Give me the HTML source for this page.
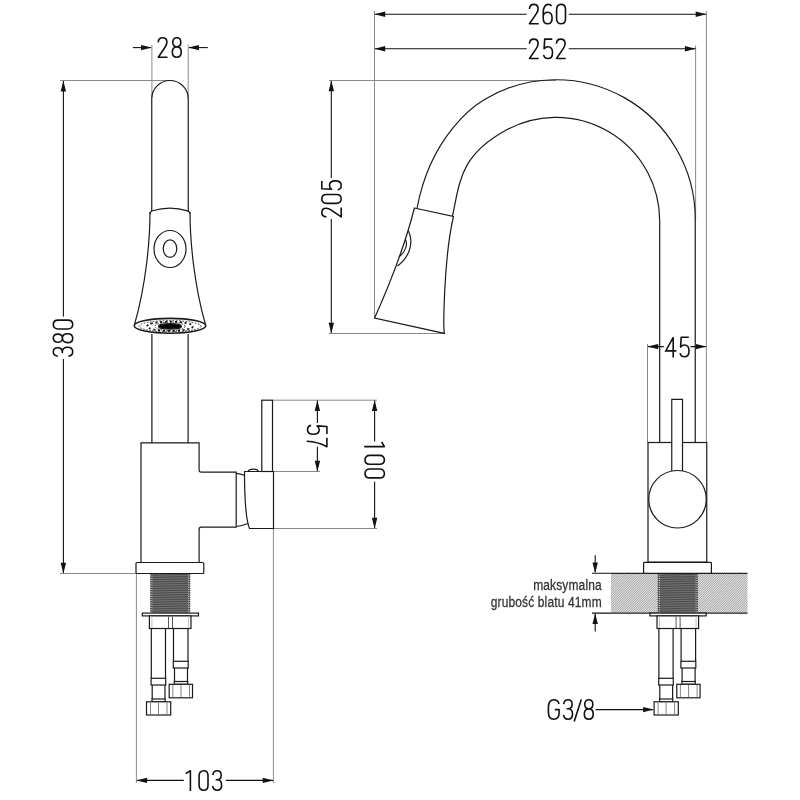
<!DOCTYPE html>
<html><head><meta charset="utf-8">
<style>
html,body{margin:0;padding:0;background:#fff;width:800px;height:800px;overflow:hidden}
svg{display:block}
</style></head>
<body>
<svg width="800" height="800" viewBox="0 0 800 800">
<defs>
<g id="d0"><path d="M0.8,5.6 C0.8,2.6 2.6,0.8 5.25,0.8 C7.9,0.8 9.7,2.6 9.7,5.6 V15.4 C9.7,18.4 7.9,20.2 5.25,20.2 C2.6,20.2 0.8,18.4 0.8,15.4 Z"/></g>
<g id="d1"><path d="M0.9,3.6 L5.6,0.8 V21"/></g>
<g id="d2"><path d="M0.9,5.4 C1.1,2.5 2.9,0.8 5.25,0.8 C7.8,0.8 9.6,2.6 9.6,5.3 C9.6,7.3 8.9,8.6 7.7,10.3 L1,20.2 H10.2"/></g>
<g id="d3"><path d="M0.9,5.2 C1.2,2.4 3,0.8 5.25,0.8 C7.7,0.8 9.3,2.5 9.3,5.2 C9.3,8 7.6,9.8 5,9.8 H3.8 M5,9.8 C7.9,9.8 9.7,11.9 9.7,15 C9.7,18.3 7.9,20.2 5.25,20.2 C2.8,20.2 1.1,18.6 0.8,15.9"/></g>
<g id="d4"><path d="M8.2,21 V0.8 L0.8,14.4 H11.4" stroke-linejoin="miter"/></g>
<g id="d5"><path d="M9.5,0.8 H1.9 L1.3,10.6 C2.3,9.2 3.6,8.5 5.2,8.5 C8,8.5 9.7,10.8 9.7,14.4 C9.7,18.1 7.9,20.2 5.2,20.2 C3,20.2 1.2,19 0.8,16.6"/></g>
<g id="d6"><path d="M9.2,2.6 C8.4,1.3 7.3,0.8 5.9,0.8 C2.9,0.8 0.8,3.6 0.8,8.8 V14.6 C0.8,18 2.6,20.2 5.25,20.2 C7.9,20.2 9.7,18 9.7,14.4 C9.7,10.8 7.9,8.6 5.25,8.6 C2.9,8.6 1.2,10.3 0.8,12.5"/></g>
<g id="d7"><path d="M0.8,0.8 H9.7 C6.8,5.8 4.6,12 4.2,21"/></g>
<g id="d8"><path d="M5.25,9.9 C2.7,9.9 1.2,8 1.2,5.3 C1.2,2.6 2.9,0.8 5.25,0.8 C7.6,0.8 9.3,2.6 9.3,5.3 C9.3,8 7.8,9.9 5.25,9.9 C2.5,9.9 0.8,12 0.8,15 C0.8,18.2 2.7,20.2 5.25,20.2 C7.8,20.2 9.7,18.2 9.7,15 C9.7,12 8,9.9 5.25,9.9 Z"/></g>
<g id="dG"><path d="M11.4,5 C10.8,2.3 9.1,0.8 6.2,0.8 C2.8,0.8 0.8,3.6 0.8,8 V13 C0.8,17.5 2.8,20.2 6.2,20.2 C9.5,20.2 11.5,18 11.5,14 V10.6 H7.2"/></g>
<g id="dS"><path d="M7.3,0.4 L0.2,22.5"/></g>
<path id="ah" d="M0,0 L-10.7,-2.7 L-10.7,2.7 Z"/>
<pattern id="hatch" width="1.3" height="1.3" patternUnits="userSpaceOnUse" patternTransform="rotate(-45)">
<rect width="1.3" height="1.3" fill="#e8e8e8"/><rect width="1.3" height="0.6" fill="#666"/>
</pattern>
<pattern id="thread" width="40" height="2.3" patternUnits="userSpaceOnUse">
<rect width="40" height="2.3" fill="#8a8a8a"/><rect width="40" height="1.1" fill="#555"/>
</pattern>
</defs>

<!-- ============ TEXT ============ -->
<g fill="none" stroke="#111" stroke-width="1.6" stroke-linecap="butt" stroke-linejoin="round">
  <!-- 28 -->
  <use href="#d2" x="157.3" y="37"/><use href="#d8" x="171.5" y="37"/>
  <!-- 260 -->
  <use href="#d2" x="528.5" y="3.6"/><use href="#d6" x="542.4" y="3.6"/><use href="#d0" x="555.8" y="3.6"/>
  <!-- 252 -->
  <use href="#d2" x="528.5" y="38.3"/><use href="#d5" x="542.8" y="38.3"/><use href="#d2" x="555.5" y="38.3"/>
  <!-- 45 -->
  <use href="#d4" x="665" y="336.5"/><use href="#d5" x="679.3" y="336.5"/>
  <!-- 103 -->
  <use href="#d1" x="184.8" y="770"/><use href="#d0" x="198.3" y="770"/><use href="#d3" x="211.9" y="770"/>
  <!-- G3/8 -->
  <use href="#dG" x="547.6" y="699"/><use href="#d3" x="562.8" y="699"/><use href="#dS" x="574" y="699"/><use href="#d8" x="583.5" y="699"/>
  <!-- 380 rotated -90 -->
  <g transform="translate(52.5,357) rotate(-90)"><use href="#d3" x="0" y="0"/><use href="#d8" x="13.6" y="0"/><use href="#d0" x="27.2" y="0"/></g>
  <!-- 205 rotated -90 -->
  <g transform="translate(321,217.8) rotate(-90)"><use href="#d2" x="0" y="0"/><use href="#d0" x="13.6" y="0"/><use href="#d5" x="27.2" y="0"/></g>
  <!-- 57 rotated 90 -->
  <g transform="translate(327.7,424.6) rotate(90)"><use href="#d5" x="0" y="0"/><use href="#d7" x="12.4" y="0"/></g>
  <!-- 100 rotated 90 -->
  <g transform="translate(385.2,441) rotate(90)"><use href="#d1" x="0" y="0"/><use href="#d0" x="13.6" y="0"/><use href="#d0" x="27.2" y="0"/></g>
</g>

<!-- ============ EXTENSION LINES ============ -->
<g stroke="#8a8a8a" stroke-width="1" fill="none">
  <path d="M60,80.5 H170 M329,80.5 H556"/>
  <path d="M60,573.5 H136"/>
  <path d="M151.9,44.7 V98"/><path d="M188.2,44.7 V98"/>
  <path d="M273,400.2 H377"/><path d="M273.5,471.5 H320"/><path d="M273.5,528.5 H377"/>
  <path d="M273.4,528.5 V783"/><path d="M136.4,574 V783"/>
  <path d="M374.5,11 V318"/><path d="M706.4,11 V442.5"/><path d="M695.6,45.5 V219"/>
  <path d="M329,333.5 H444"/>
  <path d="M647.5,344 V442.5"/>
</g>

<!-- ============ DIMENSION LINES ============ -->
<g stroke="#111" stroke-width="1.1" fill="none">
  <path d="M132.8,47.6 H151"/><path d="M189,47.6 H207.8"/>
  <path d="M63.4,81 V316.5 M63.4,359 V573"/>
  <path d="M317.4,400.5 V423 M317.4,446.8 V471"/>
  <path d="M374.6,400.5 V441.5 M374.6,481.8 V528"/>
  <path d="M137,780.4 H183.8 M225.8,780.4 H273"/>
  <path d="M375,14.25 H526.7 M568.7,14.25 H706"/>
  <path d="M375,48.75 H526.7 M568.7,48.75 H695.5"/>
  <path d="M331.3,81 V178 M331.3,219 V333"/>
  <path d="M648,346.6 H663.8 M690.6,346.6 H706"/>
  <path d="M595.6,709.6 H653"/>
  <path d="M595.2,555.2 V572 M595.2,614 V631.4"/>
  <path d="M592,573.3 H611 M592,613.1 H611"/>
</g>
<g fill="#111">
  <use href="#ah" transform="translate(151.75,47.6)"/>
  <use href="#ah" transform="translate(188.25,47.6) rotate(180)"/>
  <use href="#ah" transform="translate(63.4,80.8) rotate(-90)"/>
  <use href="#ah" transform="translate(63.4,573.5) rotate(90)"/>
  <use href="#ah" transform="translate(317.4,400.2) rotate(-90)"/>
  <use href="#ah" transform="translate(317.4,471.5) rotate(90)"/>
  <use href="#ah" transform="translate(374.6,400.2) rotate(-90)"/>
  <use href="#ah" transform="translate(374.6,528.5) rotate(90)"/>
  <use href="#ah" transform="translate(136.4,780.4) rotate(180)"/>
  <use href="#ah" transform="translate(273.4,780.4)"/>
  <use href="#ah" transform="translate(374.5,14.25) rotate(180)"/>
  <use href="#ah" transform="translate(706.4,14.25)"/>
  <use href="#ah" transform="translate(374.5,48.75) rotate(180)"/>
  <use href="#ah" transform="translate(695.6,48.75)"/>
  <use href="#ah" transform="translate(331.3,80.5) rotate(-90)"/>
  <use href="#ah" transform="translate(331.3,333.5) rotate(90)"/>
  <use href="#ah" transform="translate(647.5,346.6) rotate(180)"/>
  <use href="#ah" transform="translate(706.5,346.6)"/>
  <use href="#ah" transform="translate(653.8,709.6)"/>
  <use href="#ah" transform="translate(595.2,573.2) rotate(90)"/>
  <use href="#ah" transform="translate(595.2,613.2) rotate(-90)"/>
</g>

<!-- ============ COUNTERTOP ============ -->
<clipPath id="hc"><rect x="611" y="573.3" width="136.5" height="39.8"/></clipPath>
<g clip-path="url(#hc)"><rect x="611" y="573.3" width="136.5" height="39.8" fill="#fafafa"/><path d="M571.20,613.1L611.00,573.3M572.95,613.1L612.75,573.3M574.70,613.1L614.50,573.3M576.45,613.1L616.25,573.3M578.20,613.1L618.00,573.3M579.95,613.1L619.75,573.3M581.70,613.1L621.50,573.3M583.45,613.1L623.25,573.3M585.20,613.1L625.00,573.3M586.95,613.1L626.75,573.3M588.70,613.1L628.50,573.3M590.45,613.1L630.25,573.3M592.20,613.1L632.00,573.3M593.95,613.1L633.75,573.3M595.70,613.1L635.50,573.3M597.45,613.1L637.25,573.3M599.20,613.1L639.00,573.3M600.95,613.1L640.75,573.3M602.70,613.1L642.50,573.3M604.45,613.1L644.25,573.3M606.20,613.1L646.00,573.3M607.95,613.1L647.75,573.3M609.70,613.1L649.50,573.3M611.45,613.1L651.25,573.3M613.20,613.1L653.00,573.3M614.95,613.1L654.75,573.3M616.70,613.1L656.50,573.3M618.45,613.1L658.25,573.3M620.20,613.1L660.00,573.3M621.95,613.1L661.75,573.3M623.70,613.1L663.50,573.3M625.45,613.1L665.25,573.3M627.20,613.1L667.00,573.3M628.95,613.1L668.75,573.3M630.70,613.1L670.50,573.3M632.45,613.1L672.25,573.3M634.20,613.1L674.00,573.3M635.95,613.1L675.75,573.3M637.70,613.1L677.50,573.3M639.45,613.1L679.25,573.3M641.20,613.1L681.00,573.3M642.95,613.1L682.75,573.3M644.70,613.1L684.50,573.3M646.45,613.1L686.25,573.3M648.20,613.1L688.00,573.3M649.95,613.1L689.75,573.3M651.70,613.1L691.50,573.3M653.45,613.1L693.25,573.3M655.20,613.1L695.00,573.3M656.95,613.1L696.75,573.3M658.70,613.1L698.50,573.3M660.45,613.1L700.25,573.3M662.20,613.1L702.00,573.3M663.95,613.1L703.75,573.3M665.70,613.1L705.50,573.3M667.45,613.1L707.25,573.3M669.20,613.1L709.00,573.3M670.95,613.1L710.75,573.3M672.70,613.1L712.50,573.3M674.45,613.1L714.25,573.3M676.20,613.1L716.00,573.3M677.95,613.1L717.75,573.3M679.70,613.1L719.50,573.3M681.45,613.1L721.25,573.3M683.20,613.1L723.00,573.3M684.95,613.1L724.75,573.3M686.70,613.1L726.50,573.3M688.45,613.1L728.25,573.3M690.20,613.1L730.00,573.3M691.95,613.1L731.75,573.3M693.70,613.1L733.50,573.3M695.45,613.1L735.25,573.3M697.20,613.1L737.00,573.3M698.95,613.1L738.75,573.3M700.70,613.1L740.50,573.3M702.45,613.1L742.25,573.3M704.20,613.1L744.00,573.3M705.95,613.1L745.75,573.3M707.70,613.1L747.50,573.3M709.45,613.1L749.25,573.3M711.20,613.1L751.00,573.3M712.95,613.1L752.75,573.3M714.70,613.1L754.50,573.3M716.45,613.1L756.25,573.3M718.20,613.1L758.00,573.3M719.95,613.1L759.75,573.3M721.70,613.1L761.50,573.3M723.45,613.1L763.25,573.3M725.20,613.1L765.00,573.3M726.95,613.1L766.75,573.3M728.70,613.1L768.50,573.3M730.45,613.1L770.25,573.3M732.20,613.1L772.00,573.3M733.95,613.1L773.75,573.3M735.70,613.1L775.50,573.3M737.45,613.1L777.25,573.3M739.20,613.1L779.00,573.3M740.95,613.1L780.75,573.3M742.70,613.1L782.50,573.3M744.45,613.1L784.25,573.3M746.20,613.1L786.00,573.3" stroke="#707070" stroke-width="0.65" fill="none"/></g>
<g stroke="#222" fill="none">
  <path d="M611,573.3 H747.5" stroke-width="1.3"/>
  <path d="M611,613.1 H747.5" stroke-width="1.3"/>
</g>

<!-- ============ LOWER PARTS (left, reused right) ============ -->
<g id="lower">
  <g><rect x="150.6" y="573.5" width="39.2" height="39.4" fill="#707070"/><path d="M151.1,575.20L189.3,574.20M151.1,577.45L189.3,576.45M151.1,579.70L189.3,578.70M151.1,581.95L189.3,580.95M151.1,584.20L189.3,583.20M151.1,586.45L189.3,585.45M151.1,588.70L189.3,587.70M151.1,590.95L189.3,589.95M151.1,593.20L189.3,592.20M151.1,595.45L189.3,594.45M151.1,597.70L189.3,596.70M151.1,599.95L189.3,598.95M151.1,602.20L189.3,601.20M151.1,604.45L189.3,603.45M151.1,606.70L189.3,605.70M151.1,608.95L189.3,607.95M151.1,611.20L189.3,610.20" stroke="#4a4a4a" stroke-width="1.1" fill="none"/><path d="M151.79999999999998,573.5 V612.9 M188.60000000000002,573.5 V612.9" stroke="#f0f0f0" stroke-width="0.9" stroke-dasharray="1 1.25" fill="none"/><path d="M150.0,574.70h1.6M188.8,574.70h1.6M150.0,576.95h1.6M188.8,576.95h1.6M150.0,579.20h1.6M188.8,579.20h1.6M150.0,581.45h1.6M188.8,581.45h1.6M150.0,583.70h1.6M188.8,583.70h1.6M150.0,585.95h1.6M188.8,585.95h1.6M150.0,588.20h1.6M188.8,588.20h1.6M150.0,590.45h1.6M188.8,590.45h1.6M150.0,592.70h1.6M188.8,592.70h1.6M150.0,594.95h1.6M188.8,594.95h1.6M150.0,597.20h1.6M188.8,597.20h1.6M150.0,599.45h1.6M188.8,599.45h1.6M150.0,601.70h1.6M188.8,601.70h1.6M150.0,603.95h1.6M188.8,603.95h1.6M150.0,606.20h1.6M188.8,606.20h1.6M150.0,608.45h1.6M188.8,608.45h1.6M150.0,610.70h1.6M188.8,610.70h1.6" stroke="#333" stroke-width="0.9" fill="none"/></g>
  <g stroke="#1a1a1a" stroke-width="1.2" fill="#fff">
    <rect x="136" y="562.5" width="67.8" height="11" rx="1"/>
    <rect x="142.3" y="613.1" width="56.2" height="2.8"/>
    <rect x="149.4" y="615.9" width="41.6" height="12.6"/>
  </g>
  <g stroke="#bbb" stroke-width="0.9">
    <path d="M151.9,616.5 V628 M188.5,616.5 V628"/>
  </g>
  <g stroke="#444" stroke-width="0.9">
    <path d="M168.5,616.5 V628 M172.5,616.5 V628"/>
  </g>
  <g stroke="#1a1a1a" stroke-width="1.2" fill="#fff">
    <!-- pipe 1 -->
    <path d="M151.3,628.5 V678.3 M165.5,628.5 V678.3" fill="none"/>
    <rect x="151.1" y="678.3" width="14.6" height="6.7"/>
    <path d="M152.2,685 V699 M165,685 V699" fill="none"/>
    <rect x="152" y="699" width="13.2" height="2.8"/>
    <rect x="146.5" y="701.8" width="24.2" height="13.2"/>
    <!-- pipe 2 -->
    <path d="M173.5,628.5 V661.3 M188,628.5 V661.3" fill="none"/>
    <rect x="173.3" y="661.3" width="14.9" height="6.7"/>
    <path d="M174.5,668 V681.5 M187.5,668 V681.5" fill="none"/>
    <rect x="174.3" y="681.5" width="13.4" height="2.8"/>
    <rect x="169.2" y="684.3" width="23.3" height="13.5"/>
  </g>
  <g stroke="#666" stroke-width="0.8">
    <path d="M150.5,702.5 V714.5 M158.5,702.5 V714.5 M167,702.5 V714.5"/>
    <path d="M172.8,685 V697.3 M181,685 V697.3 M189.5,685 V697.3"/>
  </g>
</g>
<use href="#lower" transform="translate(507.6,0)"/>

<!-- ============ LEFT VIEW ============ -->
<g stroke="#1a1a1a" stroke-width="1.2" fill="none">
  <!-- tube top -->
  <path d="M151.75,211 V98.75 A18.25,18.25 0 0 1 188.25,98.75 V211"/>
  <!-- head -->
  <path d="M150,214 Q150,211.6 152.5,210.8 Q170,205.6 187.5,210.8 Q190,211.6 190,214"/>
  <path d="M150,212 C150,240 146,285 134.4,325"/>
  <path d="M190,212 C190,240 194,285 205.6,325"/>
  <ellipse cx="170" cy="249" rx="16" ry="18.5"/>
  <ellipse cx="170" cy="248.6" rx="6.8" ry="8.8"/>
  <ellipse cx="170" cy="325.8" rx="35.8" ry="7.4" fill="#fff" stroke-width="1.6"/>
  <ellipse cx="170" cy="326.2" rx="31" ry="5.6" stroke-dasharray="1.6 1.6" stroke-width="0.9"/>
  <ellipse cx="170" cy="326.3" rx="23" ry="4.6" stroke-dasharray="2.2 2.6" stroke-width="1.8"/>
  <ellipse cx="170" cy="326.4" rx="15" ry="4.2" stroke-dasharray="1.5 1.5" stroke-width="0.9"/>
  <ellipse cx="170" cy="326.4" rx="11.5" ry="2.7" fill="#000"/>
  <!-- tube lower -->
  <path d="M151.9,334 V442.9 M188.1,334 V442.9"/>
  <!-- body -->
  <path d="M141,562.5 V442.9 H199.1 V470 Q199.1,472.1 201.2,472.1 H236.2 V527.2 H201.2 Q199.1,527.2 199.1,529.3 V562.5"/>
  <!-- ring -->
  <path d="M236.4,473.3 Q241,473.8 244.5,475.5"/>
  <path d="M236.4,526.5 Q242,526 247.8,523.5"/>
  <!-- handle -->
  <path d="M244.5,471.5 H273.5 V528.5 H249.5 C246,520 244.5,505 244.5,471.5 Z" fill="#fff"/>
  <path d="M248,471.5 C249,468.2 257.5,468.2 258.5,471.5"/>
  <rect x="261.8" y="400.2" width="10.7" height="71.3"/>
</g>

<!-- ============ RIGHT VIEW ============ -->
<g stroke="#1a1a1a" stroke-width="1.2" fill="none">
  <path d="M695.25,442.5 V219 A139.25,139.25 0 0 0 483.68,100 C475.14,105.19 430.91,135.1 417.1,207.8"/>
  <path d="M659.7,442.5 V221 A103.7,103.7 0 0 0 506.27,130 C458.89,155.89 460.02,182.87 452.4,216"/>
  <!-- head -->
  <path d="M414.4,208 L453.4,216.5 C443.25,262 443.5,329 444.4,333.4 L374.6,318 Q402,257 414.4,208 Z" fill="#fff"/>
  <path d="M408.3,230.5 C413,240 412,255 397.5,266"/>
  <path d="M405.2,239.3 C408,243 406,252 398.9,256.8"/>
  <!-- body -->
  <rect x="648" y="442.5" width="58.75" height="119.7" fill="#fff"/>
  <path d="M671.75,471 V399.3 H682.5 V471" fill="#fff"/>
  <circle cx="677.5" cy="499.25" r="28.75"/>
  <rect x="643.6" y="562.3" width="67.8" height="11" rx="1" fill="#fff"/>
</g>

<!-- countertop text -->
<g font-family="Liberation Sans, sans-serif" fill="#333" stroke="#333" stroke-width="0.3" font-size="15" text-anchor="end" letter-spacing="0.17" style="will-change:transform">
  <text transform="translate(601.8,590.3) scale(0.8,0.93)">maksymalna</text>
  <text transform="translate(601.8,607) scale(0.8,0.93)">grubość blatu 41mm</text>
</g>
</svg>
</body></html>
